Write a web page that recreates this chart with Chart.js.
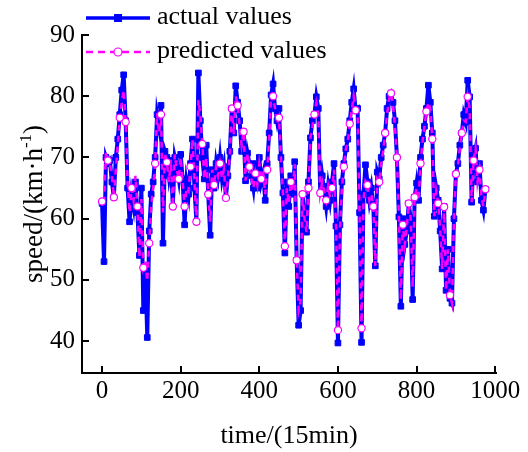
<!DOCTYPE html>
<html><head><meta charset="utf-8">
<script src="https://cdn.jsdelivr.net/npm/chart.js@4/dist/chart.umd.min.js"></script>
<style>html,body{margin:0;padding:0;background:#fff}</style>
</head><body>
<canvas id="c" width="528" height="452"></canvas>
<script>
// speed samples every 5 time steps (15 min each)
const actual = [
62.5,53,70,69,69.5,66,63.5,70,73,77,81,83.5,76,65,59.5,64,62,66,61,54,
65,45,52,40.6,58,64,66,70,77,75,78.5,56,71,70,67,69.5,62,70,68.5,66.5,
70.5,66.5,59,66,64,69,73,65,59.5,83.8,76,70,66.5,72,64,57.3,68,65,69,67,
70,66.6,68.5,63.4,67,71,78,74,81.7,79,76,71,74.2,66.2,70.7,69,67,65,69,65,
70,66,67.4,63,69,74,80.2,82,78,76,78,70,64.2,54.4,66,62,67,64,69.3,53.2,
42.6,45,64,60,57.8,66,73.2,76,77,79.9,78,64.2,67,64.4,62,65.3,63,66,69,58.8,
39.7,59,66,69,71.4,73,76,79,81.2,77.7,78,61,39.8,64,68.8,66,63,65,62,52.3,
67.6,66.5,70,72,74,78,80,80.5,79,76,70,60.3,45.7,60,55.8,58,62.5,60,46.8,63.5,
65.8,63,70,73,75.1,78,81.8,79,74,60.4,65,63,58,51.8,62,48.3,55,47,46.2,60,
67.3,69,72,74,77,75.8,82.6,79.9,62.7,70,71.5,66,69,63,61.4,64.8
];
const predicted = [
62.8,63,71,69.5,69,67,63.5,68,72,76.5,79,81,75.8,66,61,65,63,67,62,53.7,
63.2,52,53,49.8,56,62,65,69,77.2,74,77,61,70.7,69.2,66,69.6,62,70.5,68,66.5,
70,66,62,65,64.5,68.5,73,66,59.5,79.4,77,72.2,66.5,70,64,59.5,68,65.5,68.5,67,
69,66.6,68,63.4,66.5,70.5,78,73.8,80,78.5,75,72,74.2,66.2,70.7,68.5,66.5,65,67.4,65.5,
69,66.5,67.4,64,68,73,80.2,80,78,75.5,76.5,70,64.2,55.5,65,62.5,66,64.5,68.9,53.2,
45,46.5,64,60,57.8,65,73.2,75,77,78.9,77,64.2,66,64.4,63,65.3,63.5,65,68,58.8,
41.8,58,65,68.5,71.4,72.5,75.5,77.7,80,77.7,77,61,42.1,63,66.1,65.5,63,64,62,52.3,
66.5,66,69,71,74,77,79.5,80.5,78.5,75,70,60.3,46.8,59,55.8,58.5,62.5,60,48.8,63.5,
65,63,69,72.5,75.1,77.5,79,78,73,60.4,64.5,62.5,58.5,51.8,61.9,48.3,55,47.5,46.2,60,
67.3,68.5,71.5,74,76,75.8,79.9,78,62.7,69.5,71.5,66,68,63.5,62,64.8
];
const times = actual.map((_, i) => i * 5);
const xTicks = [0, 200, 400, 600, 800, 1000];
const yTicks = [40, 50, 60, 70, 80, 90];
const seriesNames = ['actual values', 'predicted values'];
const xTitle = 'time/(15min)';
const yTitleMain = 'speed/(km\u00b7h';
const yTitleSup = '-1';
const yTitleEnd = ')';

const BLUE = 'rgb(0,0,255)';
const MAG = 'rgb(255,0,255)';
const FONT = '"Liberation Serif", "Times New Roman", serif';

const overlay = {
  id: 'overlay',
  afterDraw(chart) {
    const ctx = chart.ctx, a = chart.chartArea;
    const xs = chart.scales.x, ys = chart.scales.y;
    ctx.save();
    ctx.strokeStyle = '#000'; ctx.lineWidth = 2;
    xTicks.forEach(v => {
      const p = Math.round(xs.getPixelForValue(v));
      ctx.beginPath(); ctx.moveTo(p, a.bottom); ctx.lineTo(p, a.bottom - 7); ctx.stroke();
    });
    yTicks.forEach(v => {
      const p = Math.round(ys.getPixelForValue(v));
      ctx.beginPath(); ctx.moveTo(a.left, p); ctx.lineTo(a.left + 7, p); ctx.stroke();
    });
    // x title
    ctx.fillStyle = '#000';
    ctx.font = '26px ' + FONT;
    ctx.textAlign = 'center'; ctx.textBaseline = 'middle';
    ctx.fillText(xTitle, (a.left + a.right) / 2, 436);
    // y title
    ctx.save();
    ctx.translate(35, 204);
    ctx.rotate(-Math.PI / 2);
    ctx.textAlign = 'left'; ctx.textBaseline = 'middle';
    ctx.font = '27px ' + FONT;
    const w1 = ctx.measureText(yTitleMain).width;
    const w3 = ctx.measureText(yTitleEnd).width;
    ctx.font = '17px ' + FONT;
    const w2 = ctx.measureText(yTitleSup).width;
    const tot = w1 + w2 + w3;
    let x0 = -tot / 2;
    ctx.font = '27px ' + FONT;
    ctx.fillText(yTitleMain, x0, 0);
    ctx.font = '17px ' + FONT;
    ctx.fillText(yTitleSup, x0 + w1, -8);
    ctx.font = '27px ' + FONT;
    ctx.fillText(yTitleEnd, x0 + w1 + w2, 0);
    ctx.restore();
    // legend
    ctx.lineWidth = 3.5;
    ctx.strokeStyle = BLUE;
    ctx.beginPath(); ctx.moveTo(86, 18); ctx.lineTo(150, 18); ctx.stroke();
    ctx.fillStyle = BLUE; ctx.fillRect(114, 14, 8, 8);
    ctx.lineWidth = 2.5;
    ctx.strokeStyle = MAG; ctx.setLineDash([7, 5]);
    ctx.beginPath(); ctx.moveTo(86, 52); ctx.lineTo(150, 52); ctx.stroke();
    ctx.setLineDash([]);
    ctx.lineWidth = 1.2; ctx.fillStyle = '#fff';
    ctx.beginPath(); ctx.arc(118, 52, 4, 0, Math.PI * 2); ctx.fill(); ctx.stroke();
    ctx.fillStyle = '#000';
    ctx.font = '26px ' + FONT;
    ctx.textAlign = 'left'; ctx.textBaseline = 'middle';
    ctx.fillText(seriesNames[0], 157, 17);
    ctx.fillText(seriesNames[1], 157, 51);
    ctx.restore();
  }
};

new Chart(document.getElementById('c'), {
  type: 'line',
  data: {
    datasets: [
      {
        label: seriesNames[0],
        data: times.map((t, i) => ({ x: t, y: actual[i] })),
        borderColor: BLUE, backgroundColor: BLUE,
        borderWidth: 4, pointStyle: 'rect', pointRadius: 4,
        pointBorderWidth: 1, pointBackgroundColor: BLUE, pointBorderColor: BLUE,
        tension: 0, order: 2
      },
      {
        label: seriesNames[1],
        data: times.map((t, i) => ({ x: t, y: predicted[i] })),
        borderColor: MAG, backgroundColor: '#fff',
        borderWidth: 2.5, borderDash: [6, 5],
        pointStyle: 'circle',
        pointRadius: ctx => (ctx.dataIndex % 3 === 0 ? 3.6 : 0),
        pointBorderWidth: 1.2, pointBackgroundColor: '#fff', pointBorderColor: MAG,
        tension: 0, order: 1
      }
    ]
  },
  options: {
    responsive: false, animation: false, devicePixelRatio: 1,
    layout: { padding: { top: 35, right: 32, left: 0, bottom: 0 } },
    plugins: { legend: { display: false }, tooltip: { enabled: false } },
    scales: {
      x: {
        type: 'linear', min: -51, max: 1002,
        afterBuildTicks: s => { s.ticks = xTicks.map(v => ({ value: v })); },
        afterFit: s => { s.height = 79; },
        ticks: { font: { family: FONT, size: 25 }, color: '#000', padding: 3, maxRotation: 0, autoSkip: false,
                 callback: v => String(v) },
        grid: { display: false, drawTicks: false },
        border: { display: true, color: '#000', width: 2 }
      },
      y: {
        min: 34.8, max: 90,
        afterBuildTicks: s => { s.ticks = yTicks.map(v => ({ value: v })); },
        afterFit: s => { s.width = 82; },
        ticks: { font: { family: FONT, size: 25 }, color: '#000', padding: 7, autoSkip: false,
                 callback: v => String(v) },
        grid: { display: false, drawTicks: false },
        border: { display: true, color: '#000', width: 2 }
      }
    }
  },
  plugins: [overlay]
});
</script>
</body></html>
